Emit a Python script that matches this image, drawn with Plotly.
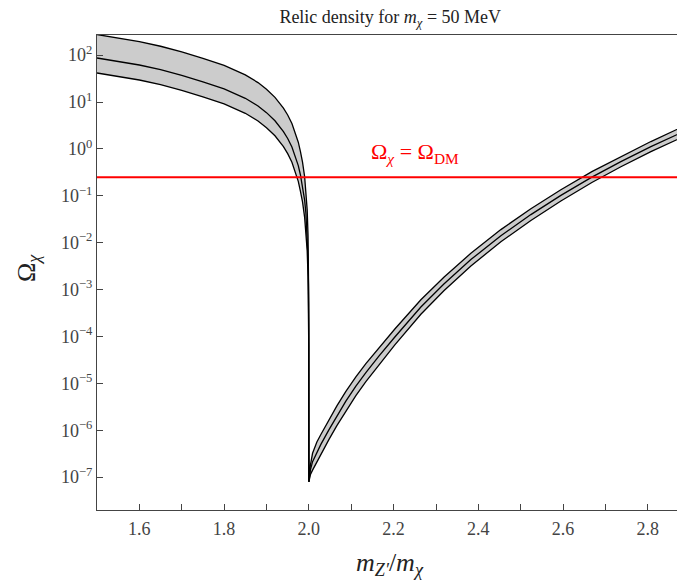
import numpy as np
import plotly.graph_objects as go

# ---- data (log10 of Omega_chi) ----
x_vals = [1.50, 1.55, 1.60, 1.65, 1.70, 1.75, 1.80, 1.85, 1.88, 1.90, 1.92, 1.94,
          1.95, 1.96, 1.97, 1.975, 1.98, 1.985, 1.99, 1.993, 1.996, 1.998, 1.999,
          1.9997, 2.0,
          2.0035, 2.0087, 2.0189, 2.0283, 2.0472, 2.0661, 2.0873, 2.1109, 2.1345,
          2.1652, 2.2029, 2.2643, 2.3186, 2.3823, 2.4531, 2.5239, 2.5947, 2.6678,
          2.7363, 2.8071, 2.8850, 2.9086]

log_central = [1.94, 1.87, 1.79, 1.69, 1.57, 1.43, 1.28, 1.08, 0.915, 0.774, 0.60, 0.371,
               0.224, 0.041, -0.20, -0.356, -0.55, -0.78, -1.093, -1.37, -1.80, -2.34, -2.88,
               -3.8, -7.10,
               -6.85, -6.67, -6.46, -6.30, -5.99, -5.69, -5.38, -5.06, -4.77,
               -4.42, -4.01, -3.37, -2.88, -2.36, -1.85, -1.40, -0.99, -0.60,
               -0.27, 0.05, 0.38, 0.47]

log_upper = [2.44, 2.37, 2.29, 2.19, 2.07, 1.93, 1.78, 1.58, 1.415, 1.274, 1.10, 0.871,
             0.724, 0.541, 0.30, 0.144, -0.05, -0.28, -0.593, -0.87, -1.30, -1.84, -2.38,
             -3.3, -7.10,
             -6.75, -6.49, -6.25, -6.09, -5.78, -5.48, -5.17, -4.86, -4.58,
             -4.24, -3.84, -3.215, -2.735, -2.225, -1.72, -1.275, -0.87, -0.485,
             -0.16, 0.158, 0.485, 0.575]

log_lower = [1.62, 1.55, 1.47, 1.37, 1.25, 1.11, 0.96, 0.76, 0.595, 0.454, 0.28, 0.05,
             -0.10, -0.285, -0.53, -0.69, -0.90, -1.13, -1.46, -1.74, -2.17, -2.71, -3.25,
             -4.2, -7.10,
             -6.95, -6.85, -6.67, -6.51, -6.20, -5.90, -5.59, -5.26, -4.96,
             -4.60, -4.18, -3.525, -3.025, -2.495, -1.98, -1.525, -1.11, -0.715,
             -0.38, -0.058, 0.275, 0.365]

omega_dm = 0.25
x_range = [1.5, 2.9065]
y_exp_range = [-7.70, 2.43]

y_tick_exps = [-7, -6, -5, -4, -3, -2, -1, 0, 1, 2]
x_tick_major = [1.6, 1.8, 2.0, 2.2, 2.4, 2.6, 2.8]
x_tick_labels = ["1.6", "1.8", "2.0", "2.2", "2.4", "2.6", "2.8"]

central = 10 ** np.array(log_central)
upper = 10 ** np.array(log_upper)
lower = 10 ** np.array(log_lower)

FONT = "Liberation Serif"
AX = "#444"

fig = go.Figure()
fig.add_trace(go.Scatter(x=x_vals, y=lower, mode="lines",
                         line=dict(color="black", width=1.3), showlegend=False))
fig.add_trace(go.Scatter(x=x_vals, y=upper, mode="lines", fill="tonexty",
                         fillcolor="rgb(204,204,204)",
                         line=dict(color="black", width=1.3), showlegend=False))
fig.add_trace(go.Scatter(x=x_vals, y=central, mode="lines",
                         line=dict(color="black", width=1.3), showlegend=False))
fig.add_trace(go.Scatter(x=x_range, y=[omega_dm, omega_dm], mode="lines",
                         line=dict(color="red", width=2), showlegend=False))

fig.add_annotation(x=2.25, y=-0.08, xref="x", yref="y",
                   text="Ω<sub><i>χ</i></sub>&nbsp;=&nbsp;Ω<sub>DM</sub>", showarrow=False,
                   font=dict(family=FONT, size=22, color="red"))

# axis titles
fig.add_annotation(x=0.4916, y=-0.113, xref="paper", yref="paper",
                   xanchor="center", yanchor="middle", showarrow=False,
                   text="<i>m</i><sub><i>Z′</i></sub>/<i>m</i><sub><i>χ</i></sub>",
                   font=dict(family=FONT, size=26, color="#222"))
fig.add_annotation(x=-0.117, y=0.51, xref="paper", yref="paper",
                   xanchor="center", yanchor="middle", showarrow=False, textangle=-90,
                   text="Ω<sub><i>χ</i></sub>",
                   font=dict(family=FONT, size=26, color="#222"))

ticktext = ["10<sup>%s</sup>" % (str(e).replace("-", "−")) for e in y_tick_exps]

fig.update_layout(
    width=685, height=583,
    margin=dict(l=89, r=0, t=27, b=81),
    plot_bgcolor="white", paper_bgcolor="white",
    font=dict(family=FONT, size=18, color="#333"),
    title=dict(text="Relic density for <i>m</i><sub><i>χ</i></sub> = 50 MeV",
               x=0.558, xanchor="center", y=0.9846, yanchor="middle",
               font=dict(family=FONT, size=18, color="#222")),
    xaxis=dict(range=x_range, showline=True, linecolor=AX, linewidth=1.2,
               mirror=True, showgrid=False, zeroline=False, automargin=False,
               tickvals=x_tick_major, ticktext=x_tick_labels,
               ticks="inside", ticklen=6, tickcolor=AX,
               minor=dict(dtick=0.1, ticks="inside", ticklen=6, tickcolor=AX, showgrid=False),
               ticklabelstandoff=2,
               tickfont=dict(family=FONT, size=18, color=AX)),
    yaxis=dict(type="log", range=y_exp_range, showline=True, linecolor=AX,
               linewidth=1.2, mirror=False, showgrid=False, zeroline=False,
               automargin=False,
               tickvals=[10.0 ** e for e in y_tick_exps], ticktext=ticktext,
               ticks="inside", ticklen=6, tickcolor=AX,
               tickfont=dict(family=FONT, size=18, color=AX)),
)

fig.write_html("out.html")
